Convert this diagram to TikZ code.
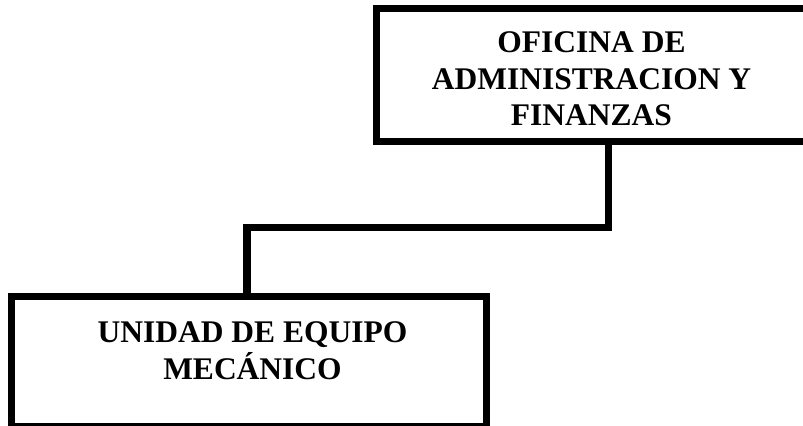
\documentclass[tikz,border=0pt]{standalone}
\usepackage{fontspec}
\setmainfont{Liberation Serif}
\usepackage{tikz}

\begin{document}
\begin{tikzpicture}[x=0.025cm,y=-0.025cm,
    unit/.style={draw,line width=5pt,inner sep=0pt},
    unittext/.style={anchor=north,align=center,inner sep=0pt,
      font=\fontsize{22.4}{26}\selectfont\bfseries},
    conn/.style={line width=5pt}]
    \useasboundingbox (0,0) rectangle (803,426);
    \clip (0,0) rectangle (803,426);
    \node[unit,minimum width=11.34cm,minimum height=3.3cm] (oficina) at (603.25,75) {};
    \node[unit,minimum width=11.875cm,minimum height=3.25cm] (unidad) at (249,361.5) {};
    \node[unittext] (oficinatxt) at (591.5,31.7) {OFICINA DE\\ADMINISTRACION Y\\FINANZAS};
    \node[unittext] (unidadtxt) at (252.5,321.7) {UNIDAD DE EQUIPO\\MECÁNICO};
    \coordinate (c1) at (608.5,227.5);
    \coordinate (c2) at (247,227.5);
    \draw[conn] (oficina.south -| c1) -- (c1) -- (c2) -- (unidad.north -| c2);
\end{tikzpicture}
\end{document}
